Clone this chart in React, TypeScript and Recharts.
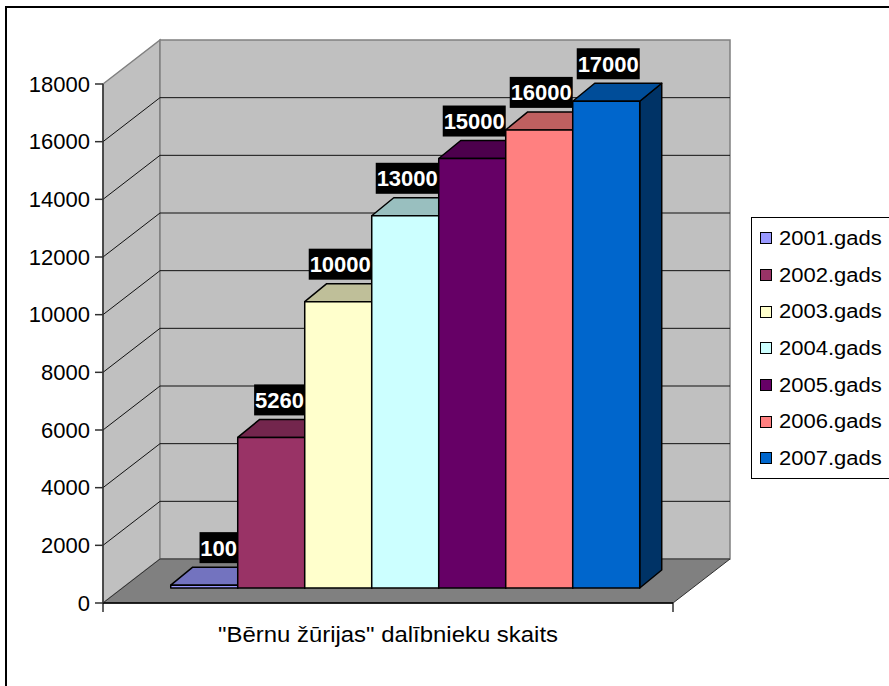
import { BarChart, Bar, XAxis, YAxis, CartesianGrid, Legend, LabelList } from "recharts";

const CATEGORY = '"Bērnu žūrijas" dalībnieku skaits';
const SERIES_NAMES = ["2001.gads", "2002.gads", "2003.gads", "2004.gads", "2005.gads", "2006.gads", "2007.gads"];
const SERIES_VALUES = [100, 5260, 10000, 13000, 15000, 16000, 17000];
const SERIES_COLORS = ["#9999FF", "#993366", "#FFFFCC", "#CCFFFF", "#660066", "#FF8080", "#0066CC"];
const Y_TICKS = [0, 2000, 4000, 6000, 8000, 10000, 12000, 14000, 16000, 18000];

const row: Record<string, string | number> = { name: CATEGORY };
SERIES_VALUES.forEach((v, i) => {
  row["s" + i] = v;
});
const data = [row];

const FONT = '"Liberation Sans", Arial, sans-serif';

// plot area (front plane of the 3d box)
const PLOT = { left: 103, top: 84, right: 673, bottom: 603 };
const WALL_DX = 57;
const WALL_DY = -44;
// bars stand a bit behind the front plane
const FRONT_DX = 17;
const FRONT_DY = -15;
const DEPTH_DX = 22;
const DEPTH_DY = -18;
const BAR_SCALE = 0.993;

function shade(hex: string, k: number) {
  const n = parseInt(hex.slice(1), 16);
  const r = Math.round(((n >> 16) & 255) * k);
  const g = Math.round(((n >> 8) & 255) * k);
  const b = Math.round((n & 255) * k);
  return `rgb(${r},${g},${b})`;
}

function Walls() {
  const { left: L, top: T, right: R, bottom: B } = PLOT;
  return (
    <g>
      <polygon
        points={`${L},${T} ${L + WALL_DX},${T + WALL_DY} ${L + WALL_DX},${B + WALL_DY} ${L},${B}`}
        fill="#c0c0c0"
        stroke="#808080"
        strokeWidth={1.5}
      />
      <rect
        x={L + WALL_DX}
        y={T + WALL_DY}
        width={R - L}
        height={B - T}
        fill="#c0c0c0"
        stroke="#808080"
        strokeWidth={1.5}
      />
      <polygon
        points={`${L},${B} ${L + WALL_DX},${B + WALL_DY} ${R + WALL_DX},${B + WALL_DY} ${R},${B}`}
        fill="#808080"
        stroke="#303030"
        strokeWidth={1}
      />
      <line x1={L} y1={B} x2={L} y2={B + 9} stroke="#303030" strokeWidth={1.5} />
      <line x1={R} y1={B} x2={R} y2={B + 9} stroke="#303030" strokeWidth={1.5} />
    </g>
  );
}

function gridLine(p: any) {
  const { x1, x2, y1, index } = p;
  const edge = y1 <= PLOT.top + 0.5 || y1 >= PLOT.bottom - 0.5;
  return (
    <g key={`grid-${index}`}>
      {index === 0 && <Walls />}
      {!edge && (
        <>
          <line x1={x1} y1={y1} x2={x1 + WALL_DX} y2={y1 + WALL_DY} stroke="#111" strokeWidth={1} />
          <line x1={x1 + WALL_DX} y1={y1 + WALL_DY} x2={x2 + WALL_DX} y2={y1 + WALL_DY} stroke="#111" strokeWidth={1} />
        </>
      )}
    </g>
  );
}

function Bar3D(props: any) {
  const { x, y, width, height, fill } = props;
  if (x == null || width == null) return null;
  const fx = x + FRONT_DX;
  const bottom = y + height + FRONT_DY;
  const h = height * BAR_SCALE;
  const top = bottom - h;
  const w = width;
  return (
    <g stroke="#000" strokeWidth={1.5} strokeLinejoin="round">
      <polygon
        points={`${fx + w},${top} ${fx + w + DEPTH_DX},${top + DEPTH_DY} ${fx + w + DEPTH_DX},${bottom + DEPTH_DY} ${fx + w},${bottom}`}
        fill={shade(fill, 0.5)}
      />
      <polygon
        points={`${fx},${top} ${fx + DEPTH_DX},${top + DEPTH_DY} ${fx + w + DEPTH_DX},${top + DEPTH_DY} ${fx + w},${top}`}
        fill={shade(fill, 0.75)}
      />
      <rect x={fx} y={top} width={w} height={h} fill={fill} />
    </g>
  );
}

function ValueLabel(props: any) {
  const vb = props.viewBox || {};
  const x = props.x ?? vb.x;
  const y = props.y ?? vb.y;
  const width = props.width ?? vb.width;
  const height = props.height ?? vb.height;
  if (x == null) return null;
  const text = String(props.value);
  const right = x + FRONT_DX + width;
  const bottom = y + height + FRONT_DY;
  const top = bottom - height * BAR_SCALE;
  const backTop = top + DEPTH_DY;
  const boxW = text.length * 12.4 + 1;
  const boxH = 31;
  const bx = right - boxW;
  const by = backTop - 4 - boxH;
  return (
    <g>
      <rect x={bx} y={by} width={boxW} height={boxH} fill="#000" />
      <text
        x={bx + boxW / 2}
        y={by + boxH / 2 + 8}
        textAnchor="middle"
        fill="#fff"
        fontFamily={FONT}
        fontWeight="bold"
        fontSize={22}
      >
        {text}
      </text>
    </g>
  );
}

function CategoryTick(props: any) {
  const { x, payload } = props;
  return (
    <text
      x={x}
      y={PLOT.bottom + 39}
      textAnchor="middle"
      fill="#000"
      fontFamily={FONT}
      fontSize={22}
      textLength={340}
      lengthAdjust="spacingAndGlyphs"
    >
      {payload.value}
    </text>
  );
}

function LegendBox() {
  return (
    <div
      style={{
        border: "1px solid #000",
        background: "#fff",
        width: 150,
        boxSizing: "border-box",
        padding: "2px 0 1px 0",
        fontFamily: FONT,
      }}
    >
      {SERIES_NAMES.map((n, i) => (
        <div key={n} style={{ height: 36.7, display: "flex", alignItems: "center" }}>
          <span
            style={{
              display: "inline-block",
              width: 10,
              height: 10,
              border: "1px solid #000",
              background: SERIES_COLORS[i],
              marginLeft: 8,
              marginRight: 7,
            }}
          />
          <span
            style={{
              display: "inline-block",
              fontSize: 20,
              color: "#000",
              whiteSpace: "nowrap",
              transform: "scaleX(1.1)",
              transformOrigin: "left center",
            }}
          >
            {n}
          </span>
        </div>
      ))}
    </div>
  );
}

export default function App() {
  return (
    <div style={{ position: "absolute", left: 0, top: 0, width: 889, height: 686, overflow: "hidden", background: "#fff" }}>
      <div
        style={{
          position: "absolute",
          left: 5,
          top: 6,
          width: 1000,
          height: 1000,
          border: "2px solid #000",
        }}
      />
      <BarChart
        width={889}
        height={686}
        data={data}
        margin={{ top: PLOT.top, right: 889 - PLOT.right - 150, bottom: 686 - PLOT.bottom - 30, left: 0 }}
        barGap={0}
        barCategoryGap="8.9%"
        style={{ position: "relative" }}
      >
        <CartesianGrid vertical={false} horizontal={gridLine} />
        <XAxis
          dataKey="name"
          height={30}
          axisLine={{ stroke: "#000", strokeWidth: 1.5 }}
          tickLine={false}
          tick={<CategoryTick />}
        />
        <YAxis
          width={PLOT.left}
          domain={[0, 18000]}
          ticks={Y_TICKS}
          interval={0}
          axisLine={{ stroke: "#303030", strokeWidth: 1.5 }}
          tickLine={{ stroke: "#303030", strokeWidth: 1.5 }}
          tickSize={8}
          tickMargin={5}
          tick={{ fill: "#000", fontSize: 22, fontFamily: FONT }}
        />
        <Legend
          layout="vertical"
          align="right"
          verticalAlign="top"
          content={() => <LegendBox />}
          wrapperStyle={{ left: 751, top: 217, right: "auto", width: 150 }}
        />
        {SERIES_NAMES.map((n, i) => (
          <Bar
            key={n}
            dataKey={"s" + i}
            name={n}
            fill={SERIES_COLORS[i]}
            shape={<Bar3D />}
            isAnimationActive={false}
          >
            <LabelList dataKey={"s" + i} content={<ValueLabel />} />
          </Bar>
        ))}
      </BarChart>
    </div>
  );
}
